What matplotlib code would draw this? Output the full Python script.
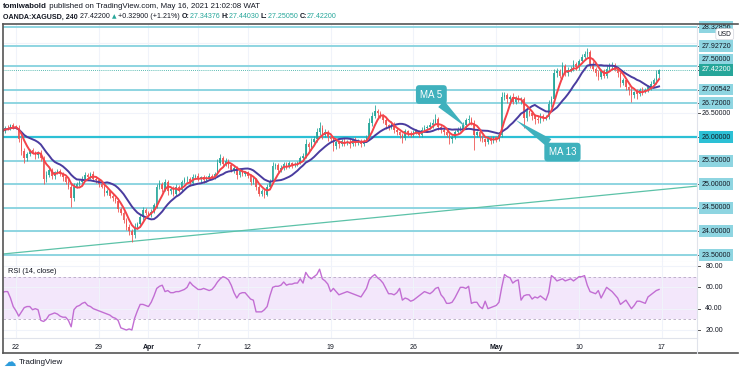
import numpy as np
import pandas as pd
import matplotlib
matplotlib.use("Agg")
import matplotlib.pyplot as plt
import matplotlib.transforms as mtransforms
from matplotlib.lines import Line2D

plt.rcParams['font.family'] = ['Liberation Sans', 'DejaVu Sans']

# XAGUSD 4h closes, one row per trading day (first row = last bars of Fri 19 Mar)
closes = [
    26.12, 26.20, 26.18, 26.25, 26.22,
    26.20, 25.95, 25.70, 25.55, 25.65, 25.72,   # Mar 22
    25.68, 25.62, 25.66, 25.55, 25.10, 25.20,
    25.30, 25.18, 25.25, 25.28, 25.22, 25.15,
    25.05, 24.95, 24.70, 24.95, 25.00, 25.05,
    25.12, 25.20, 25.15, 25.22, 25.12, 25.08,
    25.00, 24.95, 24.82, 24.85, 24.75, 24.70,   # Mar 29
    24.65, 24.48, 24.40, 24.25, 24.10, 24.00,
    23.92, 24.10, 24.15, 24.30, 24.45, 24.40,
    24.35, 24.42, 24.55, 24.95, 25.00, 24.90,   # Apr 1
    25.05, 24.85, 24.90, 24.80, 24.95, 24.88,   # Apr 5
    25.05, 25.10, 25.12, 25.02, 25.15, 25.18,
    25.10, 25.15, 25.08, 25.12, 25.18, 25.15,
    25.22, 25.45, 25.55, 25.42, 25.50, 25.40,
    25.30, 25.35, 25.20, 25.28, 25.22, 25.25,
    25.18, 25.05, 25.10, 24.95, 24.80, 24.85,   # Apr 12
    24.78, 24.95, 25.05, 25.38, 25.40, 25.30,
    25.35, 25.42, 25.38, 25.45, 25.40, 25.43,
    25.45, 25.55, 25.60, 25.85, 25.78, 25.90,
    25.95, 26.10, 26.20, 26.05, 26.10, 26.00,
    25.95, 25.80, 25.90, 25.85, 25.92, 25.88,   # Apr 19
    25.90, 25.85, 25.95, 25.88, 25.92, 25.86,
    25.92, 26.00, 26.30, 26.45, 26.55, 26.50,
    26.45, 26.35, 26.25, 26.20, 26.28, 26.15,
    26.10, 26.05, 25.98, 26.12, 26.08, 26.05,
    26.10, 26.12, 26.05, 26.15, 26.20, 26.22,   # Apr 26
    26.25, 26.30, 26.38, 26.22, 26.15, 26.10,
    26.05, 25.95, 26.00, 26.10, 26.15, 26.18,
    26.25, 26.35, 26.38, 26.30, 26.05, 26.10,
    26.00, 25.95, 25.90, 25.98, 25.92, 26.00,
    25.95, 26.05, 26.85, 26.90, 26.80, 26.85,   # May 3
    26.75, 26.82, 26.78, 26.80, 26.40, 26.55,
    26.50, 26.45, 26.38, 26.35, 26.45, 26.40,
    26.42, 26.70, 26.80, 27.35, 27.40, 27.30,
    27.50, 27.35, 27.42, 27.45, 27.55, 27.48,
    27.60, 27.70, 27.75, 27.80, 27.55, 27.45,   # May 10
    27.35, 27.28, 27.40, 27.30, 27.45, 27.50,
    27.52, 27.45, 27.35, 27.15, 27.20, 27.05,
    27.00, 26.90, 26.95, 26.92, 27.00, 26.98,
    27.00, 27.05, 27.12, 27.20, 27.34, 27.422,
]
first_open = 26.15

# wick lengths in cents above / below the candle body
wick_up = [
    4, 3, 5, 3, 4,
    3, 5, 4, 6, 4, 3,   5, 3, 4, 6, 5, 8,   6, 4, 3, 5, 4, 3,
    4, 5, 6, 8, 4, 3,   5, 6, 3, 4, 5, 3,   4, 3, 5, 4, 3, 4,
    3, 5, 4, 3, 4, 5,   6, 8, 4, 5, 7, 4,   3, 5, 6, 5, 8, 4,
    5, 3, 4, 6, 5, 4,   4, 6, 5, 3, 7, 4,   5, 3, 4, 5, 6, 3,
    4, 8, 10, 4, 5, 3,  4, 5, 3, 6, 4, 3,   3, 4, 5, 3, 4, 5,
    4, 5, 6, 8, 5, 4,   5, 6, 4, 5, 3, 4,   4, 5, 6, 10, 5, 7,
    8, 10, 12, 5, 6, 4, 6, 4, 5, 3, 4, 5,   4, 5, 3, 6, 4, 3,
    3, 5, 10, 8, 12, 5, 6, 4, 5, 3, 6, 4,   5, 3, 4, 6, 3, 4,
    4, 5, 3, 6, 5, 4,   6, 8, 10, 4, 3, 4,  4, 3, 5, 4, 6, 5,
    6, 5, 8, 4, 5, 3,   4, 5, 3, 4, 5, 3,   3, 5, 10, 6, 4, 5,
    8, 5, 6, 4, 5, 4,   3, 5, 4, 6, 5, 4,   5, 8, 6, 10, 6, 4,
    8, 5, 6, 5, 8, 4,   6, 5, 8, 9, 4, 5,   4, 6, 5, 4, 8, 6,
    6, 5, 4, 3, 5, 4,   4, 5, 3, 6, 4, 5,   3, 5, 6, 5, 8, 2,
]
wick_dn = [
    5, 3, 4, 3, 5,
    4, 6, 8, 10, 5, 6,  5, 8, 6, 5, 10, 6,  5, 8, 6, 4, 5, 8,
    5, 6, 18, 5, 4, 3,  4, 3, 6, 4, 5, 6,   5, 4, 6, 5, 4, 6,
    4, 6, 5, 7, 6, 8,   14, 5, 4, 6, 5, 6,  5, 4, 3, 6, 5, 6,
    4, 8, 5, 6, 4, 5,   4, 3, 5, 6, 4, 3,   4, 5, 6, 4, 3, 5,
    4, 3, 5, 6, 4, 5,   5, 6, 10, 4, 5, 4,  5, 6, 4, 8, 6, 5,
    7, 4, 5, 3, 6, 5,   4, 5, 6, 4, 5, 3,   4, 3, 5, 4, 8, 5,
    4, 5, 6, 10, 5, 8,  6, 10, 5, 8, 4, 6,  5, 8, 4, 6, 5, 8,
    4, 3, 5, 6, 4, 8,   5, 6, 8, 5, 4, 6,   6, 8, 10, 4, 5, 6,
    5, 4, 6, 5, 4, 3,   4, 5, 3, 8, 6, 5,   6, 10, 8, 5, 4, 3,
    4, 5, 6, 5, 33, 6,  8, 6, 8, 5, 6, 4,   5, 4, 5, 6, 8, 5,
    6, 5, 4, 8, 21, 6,  6, 8, 10, 6, 5, 6,  5, 4, 6, 5, 8, 6,
    8, 6, 5, 4, 6, 5,   5, 4, 6, 5, 8, 6,   6, 8, 5, 6, 4, 5,
    5, 6, 8, 10, 5, 6,  10, 16, 8, 12, 6, 10, 5, 4, 6, 5, 8, 9,
]

# RSI(14, close), one value per bar
rsi = [
    55, 56, 56, 50, 42,
    38, 33, 37, 41, 42, 42,  39, 40, 39, 29, 28, 30,  34, 35, 36, 35, 33, 32,
    32, 29, 23, 39, 42, 43,  45, 46, 43, 42, 40, 39,  38, 37, 36, 35, 34, 32,
    31, 29, 22, 21, 20, 21,  20, 31, 38, 44, 44, 43,  42, 46, 52, 59, 61, 62,
    56, 57, 55, 55, 56, 56,  57, 58, 60, 65, 62, 60,  58, 58, 59, 58, 57, 58,
    61, 65, 68, 70, 69, 67,  62, 55, 50, 54, 55, 55,  52, 49, 48, 37, 37, 37,
    39, 42, 52, 60, 61, 61,  62, 65, 62, 63, 63, 64,  64, 68, 64, 74, 70, 68,
    70, 72, 77, 68, 66, 63,  56, 59, 56, 53, 54, 55,  56, 55, 54, 53, 52, 51,
    55, 59, 67, 70, 72, 69,  67, 64, 59, 54, 54, 53,  55, 59, 48, 50, 49, 47,
    48, 50, 52, 54, 56, 55,  54, 56, 59, 60, 53, 50,  45, 45, 46, 50, 55, 60,
    60, 59, 61, 45, 46, 46,  42, 40, 47, 40, 41, 42,  43, 46, 60, 72, 70, 69,
    64, 66, 67, 48, 52, 53,  53, 49, 51, 50, 52, 50,  48, 55, 71, 69, 66, 67,
    68, 66, 67, 68, 66, 68,  70, 70, 71, 62, 56, 55,  54, 57, 50, 55, 60, 58,
    56, 53, 50, 44, 46, 48,  44, 40, 43, 47, 47, 46,  45, 51, 53, 55, 57, 58,
]

levels = [28.32856, 27.92720, 27.50, 27.00542, 26.72, 26.00, 25.50, 25.00, 24.50, 24.00, 23.50]
key_level = 26.00
price_ticks = [23.5, 24.0, 24.5, 25.0, 25.5, 26.0, 26.5, 27.0, 27.5, 28.0]
rsi_ticks = [20, 40, 60, 80]
trend_bar = [0, 251.7]
trend_price = [23.52, 24.96]

tick_pos = [5, 35, 53, 71, 89, 119, 149, 179, 209, 239]
tick_lbl = ['22', '29', 'Apr', '7', '12', '19', '26', 'May', '10', '17']

UP, DN = '#26a69a', '#ef5350'
TXT = '#131722'
LVL, KEY = '#8ed5e1', '#2cc0d5'

c = np.array(closes)
o = np.r_[first_open, c[:-1]]
hi = np.maximum(o, c) + np.array(wick_up) / 100
lo = np.minimum(o, c) - np.array(wick_dn) / 100
x = np.arange(len(c))
ma5 = pd.Series(c).rolling(5, min_periods=1).mean()
ma13 = pd.Series(c).rolling(13, min_periods=1).mean()

W, H = 740, 374
fig = plt.figure(figsize=(W / 100, H / 100), dpi=100)


def px_box(l, t, r, b):
    return [l / W, 1 - b / H, (r - l) / W, (b - t) / H]


ax = fig.add_axes(px_box(3, 24, 697, 262))
ax2 = fig.add_axes(px_box(3, 262, 697, 338), sharex=ax)

# ---- price pane
for a in (ax, ax2):
    a.set_xticks(tick_pos)
    a.grid(axis='x', color='#f0f3fa', lw=0.8)
    a.tick_params(length=0)
    for s in ('top', 'left'):
        a.spines[s].set_visible(False)
    for s in ('right', 'bottom'):
        a.spines[s].set_color('#e0e3eb')
        a.spines[s].set_linewidth(0.8)
    a.set_axisbelow(True)

ax.set_yticks(price_ticks)
ax.grid(axis='y', color='#f0f3fa', lw=0.8)
ax.tick_params(labelbottom=False, labelleft=False)

up = c >= o
col = np.where(up, UP, DN)
ax.vlines(x, lo, hi, colors=col, lw=0.65, alpha=0.9, zorder=3)
ax.bar(x, np.maximum(np.abs(c - o), 0.012), bottom=np.minimum(o, c), width=0.55,
       color=col, alpha=0.9, lw=0, zorder=3)

for lv in levels:
    ax.axhline(lv, color=KEY if lv == key_level else LVL,
               lw=1.6 if lv == key_level else 1.4, zorder=2)
ax.axline((trend_bar[0], trend_price[0]), (trend_bar[1], trend_price[1]),
          color='#5cc2a8', lw=0.9, zorder=2)
ax.axhline(c[-1], color=UP, lw=0.6, ls=(0, (1, 1.5)), zorder=2)

ax.plot(x, ma13, color='#4a3c9f', lw=1.4, zorder=4)
ax.plot(x, ma5, color='#f4434a', lw=1.4, zorder=5)

ax.set_xlim(0.3, 251.75)
ax.set_ylim(23.352, 28.394)

# callouts
call = dict(fontsize=7, color='white', ha='center', va='center', zorder=8,
            bbox=dict(boxstyle='round,pad=0.45,rounding_size=0.35', fc='#3fb1bd', ec='none'))
ax.annotate('MA 5', xy=(168, ma5[168]), xytext=(155.5, 26.9), **call,
            arrowprops=dict(arrowstyle='wedge,tail_width=0.9,shrink_factor=0.5',
                            fc='#3fb1bd', ec='none', shrinkA=0, shrinkB=0))
ax.annotate('MA 13', xy=(186, ma13[186]), xytext=(203, 25.68), **call,
            arrowprops=dict(arrowstyle='wedge,tail_width=0.9,shrink_factor=0.5',
                            fc='#3fb1bd', ec='none', shrinkA=0, shrinkB=0))

# price scale (only the tick not hidden behind a level tag)
tr = mtransforms.blended_transform_factory(ax.transAxes, ax.transData)
for v in price_ticks:
    if all(abs(v - lv) > 0.15 for lv in levels):
        ax.text(1.006, v, f'{v:.5f}', transform=tr, fontsize=5, color=TXT,
                va='center', ha='left', clip_on=False, zorder=1)
        ax.plot([1.0, 1.005], [v, v], transform=tr, color='#555555', lw=0.7, clip_on=False)


def tag(v, fc, tc, dy=0, label=None):
    ax.annotate(label or f'{v:.5f}', xy=(1.006, v), xycoords=tr, xytext=(0, dy),
                textcoords='offset points', fontsize=5, color=tc, va='center', ha='left',
                annotation_clip=False, zorder=10,
                bbox=dict(boxstyle='square,pad=0.35', fc=fc, ec='none'))
    ax.plot([1.0, 1.005], [v, v], transform=tr, color='#555555', lw=0.7, clip_on=False)


for lv in levels:
    tag(lv, KEY if lv == key_level else LVL, TXT, dy=4.5 if lv == 27.5 else 0)
tag(c[-1], UP, 'white')
ax.text(1.03, 28.18, 'USD', transform=tr, fontsize=4.8, color=TXT, va='center', ha='left',
        clip_on=False, zorder=11,
        bbox=dict(boxstyle='round,pad=0.3', fc='white', ec='#d1d4dc', lw=0.5))

# ---- RSI pane
ax2.axhspan(30, 70, color='#f3e7fb', lw=0, zorder=0)
for v in (30, 70):
    ax2.axhline(v, color='#b6a8c2', lw=0.6, ls=(0, (3, 3)))
ax2.set_yticks(rsi_ticks)
ax2.grid(axis='y', color='#f0f3fa', lw=0.8)
ax2.plot(x, rsi, color='#c26ed3', lw=1.0, zorder=3)
ax2.set_ylim(12.5, 83.76)
ax2.tick_params(labelleft=False, labelsize=5, labelcolor=TXT, pad=4)
ax2.set_xticklabels(tick_lbl)
for t in ax2.get_xticklabels():
    if t.get_text() in ('Apr', 'May'):
        t.set_fontweight('bold')
tr2 = mtransforms.blended_transform_factory(ax2.transAxes, ax2.transData)
for v in rsi_ticks:
    ax2.text(1.012, v, f'{v:.2f}', transform=tr2, fontsize=5, color=TXT, va='center',
             ha='left', clip_on=False)
    ax2.plot([1.0, 1.005], [v, v], transform=tr2, color='#555555', lw=0.7, clip_on=False)
ax2.text(0.007, 0.88, 'RSI (14, close)', transform=ax2.transAxes, fontsize=5.3,
         color=TXT, va='center', ha='left')

# ---- outer frame
for (x0, y0, x1, y1) in [(3, 24, 3, 353), (3, 24, 738, 24), (3, 353, 738, 353)]:
    fig.add_artist(Line2D([x0 / W, x1 / W], [1 - y0 / H, 1 - y1 / H], color='#555555', lw=1.2))
fig.add_artist(Line2D([697 / W, 697 / W], [1 - 338 / H, 1 - 353 / H], color='#e0e3eb', lw=0.8))

# ---- header
renderer = fig.canvas.get_renderer()


def run_text(ypx, parts, size):
    xpos = 3
    for s, kw in parts:
        opts = dict(fontsize=size, va='center', ha='left', color=TXT)
        opts.update(kw)
        t = fig.text(xpos / W, 1 - ypx / H, s, **opts)
        xpos = t.get_window_extent(renderer).x1


run_text(6, [('tomiwabold', dict(fontweight='bold')),
             (' published on TradingView.com, May 16, 2021 21:02:08 WAT', {})], 5.7)
run_text(17, [('OANDA:XAGUSD, 240', dict(fontweight='bold')),
              (' 27.42200 ', {}), ('▲', dict(color=UP, family='DejaVu Sans', fontsize=4.2)),
              (' +0.32900 (+1.21%) ', {}),
              ('O:', dict(fontweight='bold')), ('27.34376 ', dict(color=UP)),
              ('H:', dict(fontweight='bold')), ('27.44030 ', dict(color=UP)),
              ('L:', dict(fontweight='bold')), ('27.25050 ', dict(color=UP)),
              ('C:', dict(fontweight='bold')), ('27.42200', dict(color=UP))], 5.15)

# ---- footer logo
fig.text(3 / W, 1 - 362 / H, '☁', family='DejaVu Sans', fontsize=9, color='#2d9cdb',
         va='center', ha='left')
fig.text(19 / W, 1 - 363 / H, 'TradingView', fontsize=5.8, color=TXT, va='center', ha='left')

fig.savefig('out.png', dpi=100)
